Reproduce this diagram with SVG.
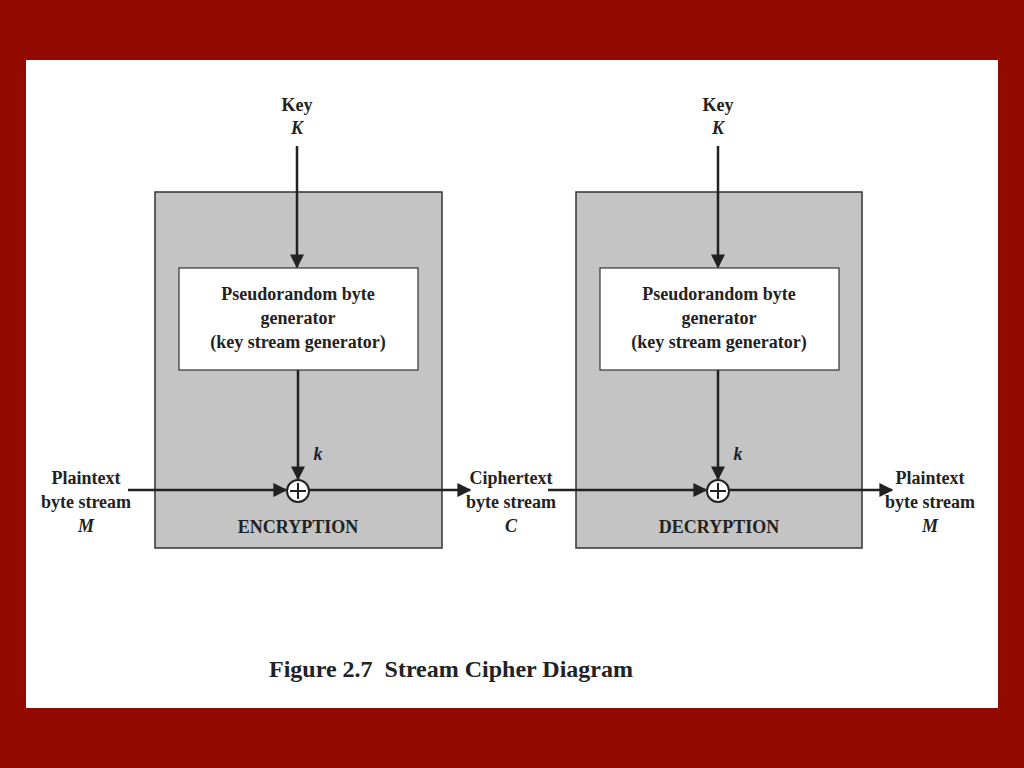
<svg xmlns="http://www.w3.org/2000/svg" width="1024" height="768" viewBox="0 0 1024 768">
<style>
text{font-family:"Liberation Serif","Times New Roman",serif;font-weight:bold;font-size:18px;fill:#222;text-anchor:middle}
.i{font-style:italic}
.box{fill:#c4c4c4;stroke:#333;stroke-width:1.5}
.gen{fill:#fff;stroke:#333;stroke-width:1.2}
.ln{stroke:#222;stroke-width:2.5;fill:none}
</style>
<defs><marker id="b" viewBox="0 0 10 10" refX="9" refY="5" markerWidth="14" markerHeight="14" orient="auto" markerUnits="userSpaceOnUse"><path d="M0,0L10,5L0,10z" fill="#222"/></marker></defs>
<rect width="1024" height="768" fill="#930a00"/>
<rect x="26" y="60" width="972" height="648" fill="#fff"/>
<g id="enc">
<rect class="box" x="155" y="192" width="287" height="356"/>
<text x="298" y="533">ENCRYPTION</text>
</g>
<g id="gen1">
<rect class="gen" x="179" y="268" width="239" height="102"/>
<text x="298" y="300">Pseudorandom byte</text>
<text x="298" y="324">generator</text>
<text x="298" y="348">(key stream generator)</text>
</g>
<g id="xor1"><circle cx="298" cy="491" r="11" fill="#fff" stroke="#222" stroke-width="2"/><path d="M298,483v16M290,491h16" stroke="#222" stroke-width="2"/></g>
<g id="dec">
<rect class="box" x="576" y="192" width="286" height="356"/>
<text x="719" y="533">DECRYPTION</text>
</g>
<g id="gen2">
<rect class="gen" x="600" y="268" width="239" height="102"/>
<text x="719" y="300">Pseudorandom byte</text>
<text x="719" y="324">generator</text>
<text x="719" y="348">(key stream generator)</text>
</g>
<g id="xor2"><circle cx="718" cy="491" r="11" fill="#fff" stroke="#222" stroke-width="2"/><path d="M718,483v16M710,491h16" stroke="#222" stroke-width="2"/></g>
<g id="labels">
<text x="297" y="111">Key</text><text class="i" x="297" y="134">K</text>
<text x="718" y="111">Key</text><text class="i" x="718" y="134">K</text>
<text class="i" x="318" y="460">k</text><text class="i" x="738" y="460">k</text>
<text x="86" y="484">Plaintext</text><text x="86" y="508">byte stream</text><text class="i" x="86" y="532">M</text>
<text x="511" y="484">Ciphertext</text><text x="511" y="508">byte stream</text><text class="i" x="511" y="532">C</text>
<text x="930" y="484">Plaintext</text><text x="930" y="508">byte stream</text><text class="i" x="930" y="532">M</text>
<text x="451" y="677" style="font-size:24px;white-space:pre">Figure 2.7  Stream Cipher Diagram</text>
</g>
<g id="connectors">
<path class="ln" d="M297,146V267" marker-end="url(#b)"/>
<path class="ln" d="M718,146V267" marker-end="url(#b)"/>
<path class="ln" d="M298,370V479" marker-end="url(#b)"/>
<path class="ln" d="M718,370V479" marker-end="url(#b)"/>
<path class="ln" d="M128,490H286" marker-end="url(#b)"/>
<path class="ln" d="M310,490H470" marker-end="url(#b)"/>
<path class="ln" d="M548,490H706" marker-end="url(#b)"/>
<path class="ln" d="M730,490H892" marker-end="url(#b)"/>
</g>
</svg>
